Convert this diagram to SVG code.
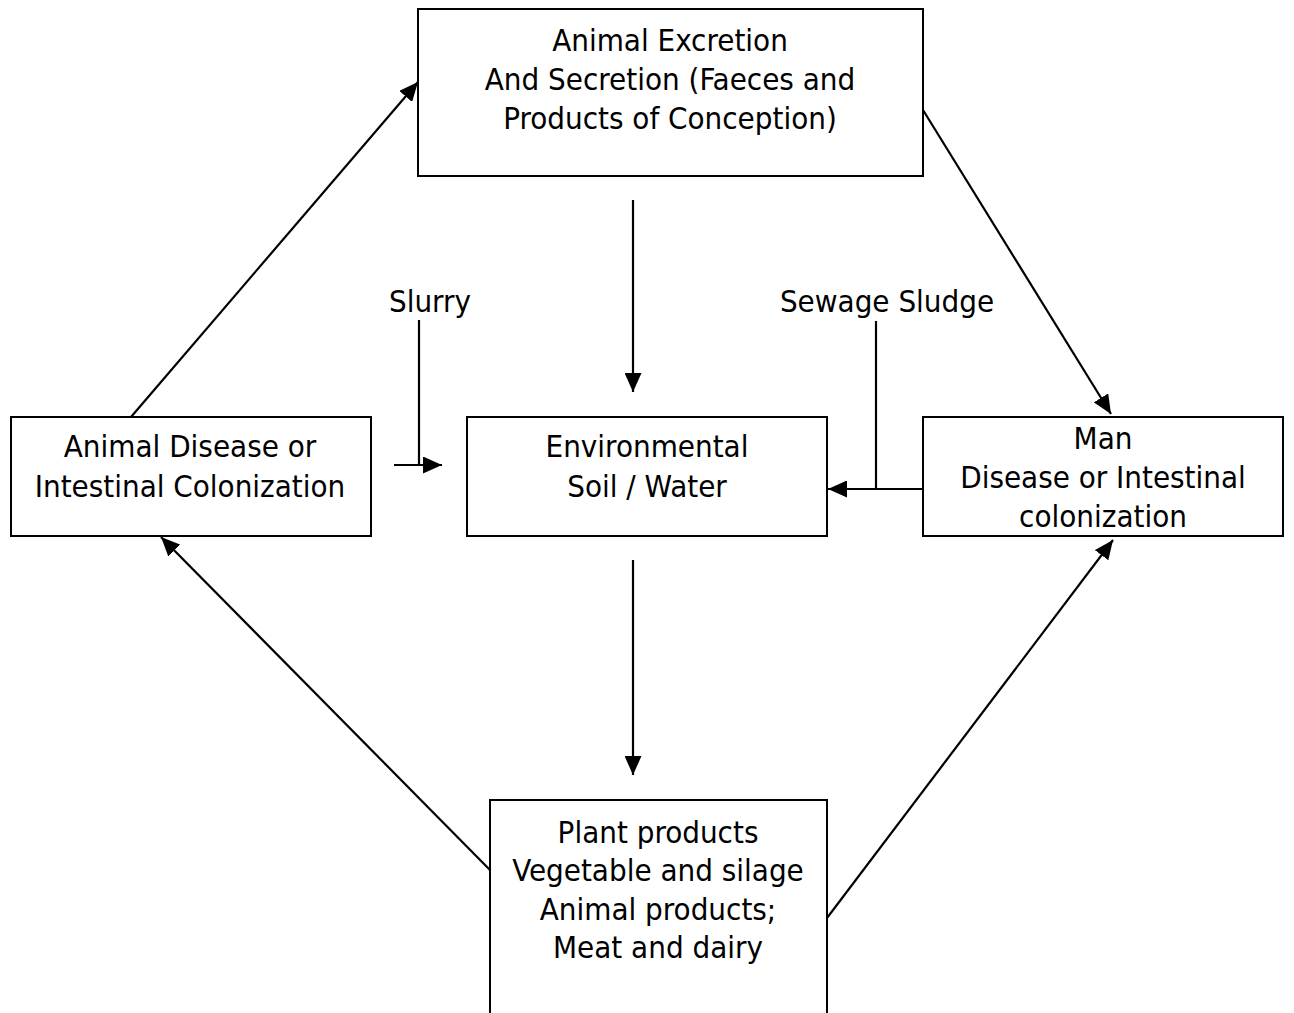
<svg xmlns="http://www.w3.org/2000/svg" width="1294" height="1013" viewBox="0 0 1294 1013">
  <style>
    .box { fill: #ffffff; stroke: #000000; stroke-width: 2; }
    .lbl { font-family: "DejaVu Sans Condensed", "DejaVu Sans", sans-serif; font-size: 31px; fill: #000000; text-anchor: middle; }
    .edge { fill: none; stroke: #000000; stroke-width: 2.2; }
    .arrow { marker-end: url(#head); }
  </style>
  <defs>
    <marker id="head" markerUnits="userSpaceOnUse" markerWidth="21" markerHeight="17" refX="19" refY="8.5" orient="auto">
      <path d="M0,0 L19,8.5 L0,17 Z" fill="#000000"/>
    </marker>
  </defs>
  <rect width="1294" height="1013" fill="#ffffff"/>

  <g id="connectors">
    <line class="edge arrow" x1="131" y1="417" x2="418" y2="82"/>
    <line class="edge arrow" x1="923" y1="110" x2="1111" y2="414"/>
    <line class="edge arrow" x1="633" y1="200" x2="633" y2="392"/>
    <line class="edge arrow" x1="633" y1="560" x2="633" y2="775"/>
    <line class="edge arrow" x1="490" y1="870" x2="161" y2="537"/>
    <line class="edge arrow" x1="827" y1="918" x2="1113" y2="540"/>
    <!-- slurry feed -->
    <line class="edge" x1="419" y1="320" x2="419" y2="465"/>
    <line class="edge arrow" x1="394" y1="465" x2="442" y2="465"/>
    <!-- sewage sludge feed -->
    <line class="edge" x1="876" y1="321" x2="876" y2="489"/>
    <line class="edge arrow" x1="923" y1="489" x2="828" y2="489"/>
  </g>

  <g id="excretion">
    <rect class="box" x="418" y="9" width="505" height="167"/>
    <text class="lbl" x="670" y="51">Animal Excretion</text>
    <text class="lbl" x="670" y="90">And Secretion (Faeces and</text>
    <text class="lbl" x="670" y="129">Products of Conception)</text>
  </g>

  <g id="animal">
    <rect class="box" x="11" y="417" width="360" height="119"/>
    <text class="lbl" x="190" y="457">Animal Disease or</text>
    <text class="lbl" x="190" y="497">Intestinal Colonization</text>
  </g>

  <g id="environment">
    <rect class="box" x="467" y="417" width="360" height="119"/>
    <text class="lbl" x="647" y="457">Environmental</text>
    <text class="lbl" x="647" y="497">Soil / Water</text>
  </g>

  <g id="man">
    <rect class="box" x="923" y="417" width="360" height="119"/>
    <text class="lbl" x="1103" y="449">Man</text>
    <text class="lbl" x="1103" y="488">Disease or Intestinal</text>
    <text class="lbl" x="1103" y="527">colonization</text>
  </g>

  <g id="products">
    <rect class="box" x="490" y="800" width="337" height="230"/>
    <text class="lbl" x="658" y="843">Plant products</text>
    <text class="lbl" x="658" y="881">Vegetable and silage</text>
    <text class="lbl" x="658" y="920">Animal products;</text>
    <text class="lbl" x="658" y="958">Meat and dairy</text>
  </g>

  <g id="slurry">
    <text class="lbl" x="430" y="312">Slurry</text>
  </g>
  <g id="sewage">
    <text class="lbl" x="887" y="312">Sewage Sludge</text>
  </g>
</svg>
